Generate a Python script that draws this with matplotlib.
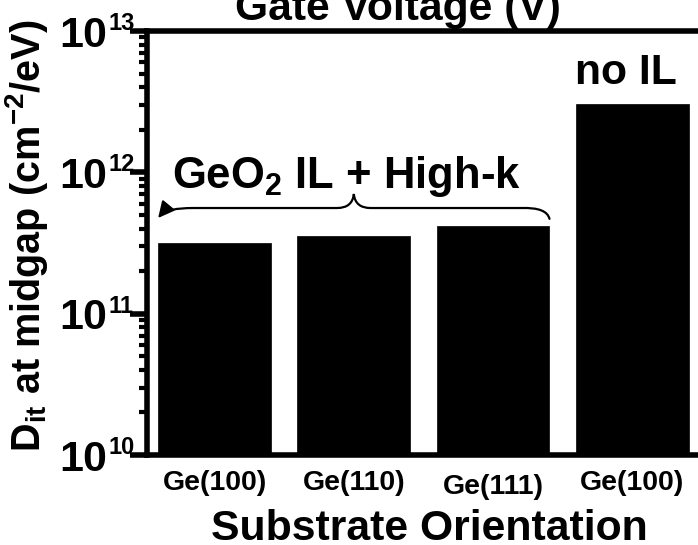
import matplotlib
matplotlib.use("Agg")
import matplotlib.pyplot as plt
import matplotlib.ticker as mticker
import matplotlib.transforms as mtransforms
import numpy as np
from matplotlib.path import Path
from matplotlib.patches import PathPatch

plt.rcParams['font.family'] = ['Liberation Sans', 'DejaVu Sans']
plt.rcParams['font.weight'] = 'bold'
plt.rcParams['mathtext.fontset'] = 'custom'
plt.rcParams['mathtext.rm'] = 'Liberation Sans:bold'
plt.rcParams['mathtext.it'] = 'Liberation Sans:bold'
plt.rcParams['mathtext.bf'] = 'Liberation Sans:bold'
plt.rcParams['mathtext.default'] = 'regular'

# Data
categories = ["Ge(100)", "Ge(110)", "Ge(111)", "Ge(100)"]
dit_values = [3.15e11, 3.55e11, 4.2e11, 3.05e12]
ytick_values = [1e10, 1e11, 1e12, 1e13]
ytick_exponents = ["10", "11", "12", "13"]
group_label = "GeO$_2$ IL + High-k"
single_label = "no IL"

W, H = 698, 545
fig = plt.figure(figsize=(W / 100, H / 100), dpi=100)
ax = fig.add_axes([147 / W, 90 / H, (702 - 147) / W, 424 / H])

x = np.arange(len(categories))
ax.set_yscale('log')
ax.bar(x, dit_values, width=0.81, color='black', edgecolor='black', linewidth=0.5)
ax.set_ylim(1e10, 1e13)
ax.set_xlim(-0.485, 3.5)

for s in ax.spines.values():
    s.set_linewidth(4)
ax.tick_params(axis='y', which='major', direction='out', length=12, width=4,
               labelsize=31, pad=17)
ax.tick_params(axis='y', which='minor', direction='out', length=6, width=3)
ax.tick_params(axis='x', which='both', length=0, labelsize=20.5, pad=11)
ax.set_xticks(x)
ax.set_xticklabels(categories, fontweight='bold')
ax.set_yticks(ytick_values)
ax.set_yticklabels(["10"] * len(ytick_values), fontweight='bold')
ax.yaxis.set_minor_locator(mticker.LogLocator(base=10, subs=np.arange(2, 10), numticks=10))
ax.yaxis.set_minor_formatter(mticker.NullFormatter())

lbls = ax.get_xticklabels()
lbls[2].set_transform(lbls[2].get_transform() +
                      mtransforms.ScaledTranslation(0, -4 / 100, fig.dpi_scale_trans))

# exponents of the y tick labels
exp_tr = mtransforms.blended_transform_factory(ax.transAxes, ax.transData) + \
    mtransforms.ScaledTranslation(-2 / 100, 1 / 100, fig.dpi_scale_trans)
for val, ex in zip(ytick_values, ytick_exponents):
    ax.text((110 - 147) / 555, val, ex, transform=exp_tr, ha='left', va='baseline',
            fontsize=17, fontweight='bold', clip_on=False)

# Texts
fig.text(398 / W, 1 - 20 / H, "Gate Voltage (V)", ha='center', va='baseline',
         fontsize=30.7, fontweight='bold')
fig.text(429 / W, 1 - 540 / H, "Substrate Orientation", ha='center', va='baseline',
         fontsize=30.8, fontweight='bold')
fig.text(27 / W, 1 - 236 / H, r"D$_{\mathrm{it}}$ at midgap (cm$^{-2}$/eV)",
         ha='center', va='center', rotation=90, fontsize=28.5, fontweight='bold')

ax.text(0.95, 7.8e11, group_label, ha='center', va='baseline', fontsize=31.4,
        fontweight='bold')
ax.text(2.954, 4.25e12, single_label, ha='center', va='baseline', fontsize=30.7,
        fontweight='bold')

# Brace over the first three bars
tr = mtransforms.blended_transform_factory(ax.transData, ax.transAxes)
x0 = x[0] - 0.405
x1 = x[2] + 0.405
xm = (x0 + x1) / 2
y_end, y_lvl, y_pk = 0.559, 0.5825, 0.6156
verts = [
    (x1, y_end - 0.002), (x1 - 0.02, y_lvl + 0.002), (x1 - 0.2, y_lvl),
    (xm + 0.12, y_lvl),
    (xm + 0.01, y_lvl), (xm, y_pk),
    (xm - 0.01, y_lvl), (xm - 0.12, y_lvl),
    (x0 + 0.25, y_lvl),
    (x0 + 0.07, y_lvl), (x0 + 0.02, y_end + 0.008),
]
codes = [Path.MOVETO, Path.CURVE3, Path.CURVE3,
         Path.LINETO,
         Path.CURVE3, Path.CURVE3,
         Path.CURVE3, Path.CURVE3,
         Path.LINETO,
         Path.CURVE3, Path.CURVE3]
ax.add_patch(PathPatch(Path(verts, codes), fill=False, lw=1.6, edgecolor='black',
                       transform=tr, clip_on=False, capstyle='round'))
ax.annotate('', xy=(x0, y_end), xycoords=tr,
            xytext=(x0 + 0.03, y_end + 0.012), textcoords=tr,
            arrowprops=dict(arrowstyle='-|>,head_length=0.7,head_width=0.35',
                            mutation_scale=14, lw=1.5, color='black',
                            shrinkA=0, shrinkB=0))

fig.savefig("out.png", dpi=100)
